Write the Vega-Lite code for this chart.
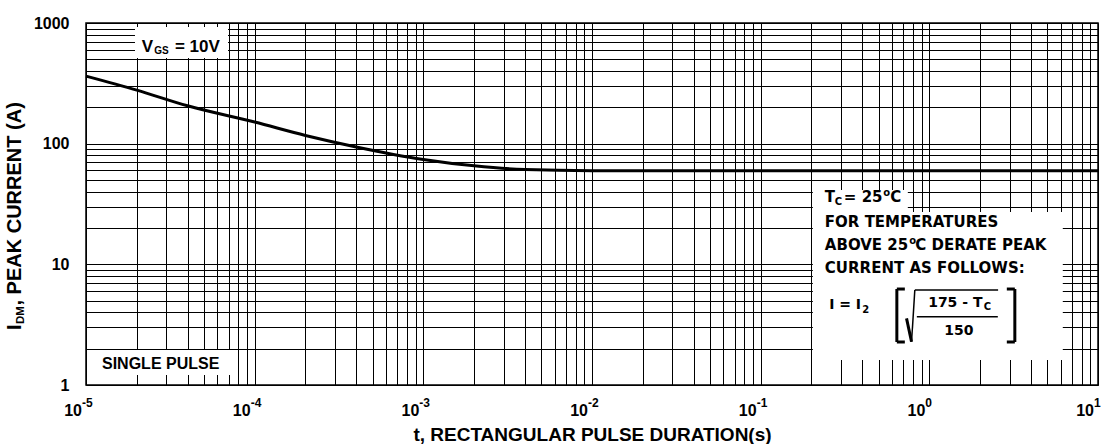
{
  "$schema": "https://vega.github.io/schema/vega-lite/v6.json",
  "width": 1012,
  "height": 362,
  "autosize": {"type": "none"},
  "padding": {"left": 86, "top": 23, "right": 13, "bottom": 59},
  "background": "white",
  "config": {
    "font": "Liberation Sans",
    "view": {"stroke": "#000", "strokeWidth": 1.5},
    "text": {"font": "Liberation Sans", "fontWeight": "bold", "color": "#000", "align": "left", "baseline": "alphabetic"}
  },
  "layer": [
    {
      "data": {"values": [
        {"t": 1e-5, "i": 363},
        {"t": 2e-5, "i": 278},
        {"t": 4e-5, "i": 206},
        {"t": 1e-4, "i": 151},
        {"t": 2e-4, "i": 117},
        {"t": 4e-4, "i": 94},
        {"t": 1e-3, "i": 74},
        {"t": 2e-3, "i": 65.5},
        {"t": 4e-3, "i": 61},
        {"t": 1e-2, "i": 59.7},
        {"t": 0.1, "i": 59.7},
        {"t": 1, "i": 59.7},
        {"t": 10, "i": 59.7}
      ]},
      "mark": {"type": "line", "color": "#000", "strokeWidth": 3, "interpolate": "monotone"},
      "encoding": {
        "x": {
          "field": "t", "type": "quantitative",
          "scale": {"type": "log", "domain": [1e-5, 10], "nice": false},
          "axis": {
            "values": [1e-5,2e-5,3e-5,4e-5,5e-5,6e-5,7e-5,8e-5,9e-5,1e-4,2e-4,3e-4,4e-4,5e-4,6e-4,7e-4,8e-4,9e-4,0.001,0.002,0.003,0.004,0.005,0.006,0.007,0.008,0.009,0.01,0.02,0.03,0.04,0.05,0.06,0.07,0.08,0.09,0.1,0.2,0.3,0.4,0.5,0.6,0.7,0.8,0.9,1,2,3,4,5,6,7,8,9,10],
            "grid": true, "gridColor": "#000", "gridOpacity": 1, "gridWidth": 1,
            "labels": false, "ticks": false, "domain": false, "zindex": 0,
            "title": "t, RECTANGULAR PULSE DURATION(s)",
            "titleFont": "Liberation Sans", "titleFontWeight": "bold", "titleFontSize": 19,
            "titleColor": "#000", "titleBaseline": "alphabetic", "titlePadding": 55
          }
        },
        "y": {
          "field": "i", "type": "quantitative",
          "scale": {"type": "log", "domain": [1, 1000], "nice": false},
          "axis": {
            "values": [1,2,3,4,5,6,7,8,9,10,20,30,40,50,60,70,80,90,100,200,300,400,500,600,700,800,900,1000],
            "grid": true, "gridColor": "#000", "gridOpacity": 1, "gridWidth": 1,
            "ticks": false, "domain": false, "zindex": 0,
            "labelExpr": "datum.value == 1 || datum.value == 10 || datum.value == 100 || datum.value == 1000 ? format(datum.value, 'd') : ''",
            "labelOverlap": false, "labelFont": "Liberation Sans", "labelFontWeight": "bold",
            "labelFontSize": 16, "labelColor": "#000", "labelPadding": 17,
            "title": null
          }
        }
      }
    },
    {"data": {"values": [{}]}, "mark": {"type": "rect", "fill": "white"},
     "encoding": {"x": {"datum": 1.952e-5, "type": "quantitative"}, "x2": {"datum": 6.95e-5}, "y": {"datum": 925, "type": "quantitative"}, "y2": {"datum": 512}}},
    {"data": {"values": [{}]}, "mark": {"type": "rect", "fill": "white"},
     "encoding": {"x": {"datum": 1.02e-5, "type": "quantitative"}, "x2": {"datum": 7.54e-5}, "y": {"datum": 1.95, "type": "quantitative"}, "y2": {"datum": 1.21}}},
    {"data": {"values": [{}]}, "mark": {"type": "rect", "fill": "white"},
     "encoding": {"x": {"datum": 0.2039, "type": "quantitative"}, "x2": {"datum": 0.7455}, "y": {"datum": 41.26, "type": "quantitative"}, "y2": {"datum": 27.13}}},
    {"data": {"values": [{}]}, "mark": {"type": "rect", "fill": "white"},
     "encoding": {"x": {"datum": 0.2039, "type": "quantitative"}, "x2": {"datum": 6.184}, "y": {"datum": 27.13, "type": "quantitative"}, "y2": {"datum": 1.611}}},

    {"data": {"values": [{}]}, "mark": {"type": "text", "text": "V", "fontSize": 17},
     "encoding": {"x": {"datum": 2.138e-5, "type": "quantitative"}, "y": {"datum": 577.4, "type": "quantitative"}}},
    {"data": {"values": [{}]}, "mark": {"type": "text", "text": "GS", "fontSize": 10, "dx": 12.5, "dy": 2},
     "encoding": {"x": {"datum": 2.138e-5, "type": "quantitative"}, "y": {"datum": 577.4, "type": "quantitative"}}},
    {"data": {"values": [{}]}, "mark": {"type": "text", "text": "= 10V", "fontSize": 17, "dx": 33.3},
     "encoding": {"x": {"datum": 2.138e-5, "type": "quantitative"}, "y": {"datum": 577.4, "type": "quantitative"}}},

    {"data": {"values": [{}]}, "mark": {"type": "text", "text": "SINGLE PULSE", "fontSize": 16},
     "encoding": {"x": {"datum": 1.244e-5, "type": "quantitative"}, "y": {"datum": 1.357, "type": "quantitative"}}},

    {"data": {"values": [{}]}, "mark": {"type": "text", "text": "T", "fontSize": 15, "font": "DejaVu Sans"},
     "encoding": {"x": {"datum": 0.2402, "type": "quantitative"}, "y": {"datum": 32.64, "type": "quantitative"}}},
    {"data": {"values": [{}]}, "mark": {"type": "text", "text": "C", "fontSize": 10, "font": "DejaVu Sans", "dx": 10, "dy": 3},
     "encoding": {"x": {"datum": 0.2402, "type": "quantitative"}, "y": {"datum": 32.64, "type": "quantitative"}}},
    {"data": {"values": [{}]}, "mark": {"type": "text", "text": "= 25", "fontSize": 15, "font": "DejaVu Sans", "dx": 19},
     "encoding": {"x": {"datum": 0.2402, "type": "quantitative"}, "y": {"datum": 32.64, "type": "quantitative"}}},
    {"data": {"values": [{}]}, "mark": {"type": "text", "text": "o", "fontSize": 10, "font": "DejaVu Sans", "dx": 58.5, "dy": -6},
     "encoding": {"x": {"datum": 0.2402, "type": "quantitative"}, "y": {"datum": 32.64, "type": "quantitative"}}},
    {"data": {"values": [{}]}, "mark": {"type": "text", "text": "C", "fontSize": 15, "font": "DejaVu Sans", "dx": 65.5},
     "encoding": {"x": {"datum": 0.2402, "type": "quantitative"}, "y": {"datum": 32.64, "type": "quantitative"}}},

    {"data": {"values": [{}]}, "mark": {"type": "text", "text": "FOR TEMPERATURES", "fontSize": 15, "font": "DejaVu Sans"},
     "encoding": {"x": {"datum": 0.2402, "type": "quantitative"}, "y": {"datum": 20.26, "type": "quantitative"}}},
    {"data": {"values": [{}]}, "mark": {"type": "text", "text": "ABOVE 25", "fontSize": 15, "font": "DejaVu Sans"},
     "encoding": {"x": {"datum": 0.2402, "type": "quantitative"}, "y": {"datum": 13.14, "type": "quantitative"}}},
    {"data": {"values": [{}]}, "mark": {"type": "text", "text": "o", "fontSize": 10, "font": "DejaVu Sans", "dx": 84.5, "dy": -6},
     "encoding": {"x": {"datum": 0.2402, "type": "quantitative"}, "y": {"datum": 13.14, "type": "quantitative"}}},
    {"data": {"values": [{}]}, "mark": {"type": "text", "text": "C DERATE PEAK", "fontSize": 15, "font": "DejaVu Sans", "dx": 90.5},
     "encoding": {"x": {"datum": 0.2402, "type": "quantitative"}, "y": {"datum": 13.14, "type": "quantitative"}}},
    {"data": {"values": [{}]}, "mark": {"type": "text", "text": "CURRENT AS FOLLOWS:", "fontSize": 15, "font": "DejaVu Sans"},
     "encoding": {"x": {"datum": 0.2402, "type": "quantitative"}, "y": {"datum": 8.518, "type": "quantitative"}}},

    {"data": {"values": [{}]}, "mark": {"type": "text", "text": "I = I", "fontSize": 14, "font": "DejaVu Sans"},
     "encoding": {"x": {"datum": 0.2548, "type": "quantitative"}, "y": {"datum": 4.238, "type": "quantitative"}}},
    {"data": {"values": [{}]}, "mark": {"type": "text", "text": "2", "fontSize": 10, "font": "DejaVu Sans", "dx": 33, "dy": 4},
     "encoding": {"x": {"datum": 0.2548, "type": "quantitative"}, "y": {"datum": 4.238, "type": "quantitative"}}},
    {"data": {"values": [{}]}, "mark": {"type": "text", "text": "175 - T", "fontSize": 14, "font": "DejaVu Sans"},
     "encoding": {"x": {"datum": 0.9838, "type": "quantitative"}, "y": {"datum": 4.454, "type": "quantitative"}}},
    {"data": {"values": [{}]}, "mark": {"type": "text", "text": "C", "fontSize": 10, "font": "DejaVu Sans", "dx": 55.5, "dy": 3},
     "encoding": {"x": {"datum": 0.9838, "type": "quantitative"}, "y": {"datum": 4.454, "type": "quantitative"}}},
    {"data": {"values": [{}]}, "mark": {"type": "text", "text": "150", "fontSize": 14, "font": "DejaVu Sans", "align": "center"},
     "encoding": {"x": {"datum": 1.496, "type": "quantitative"}, "y": {"datum": 2.596, "type": "quantitative"}}},

    {"data": {"values": [{}]}, "mark": {"type": "rule", "color": "#000", "strokeWidth": 3},
     "encoding": {"x": {"datum": 0.6418, "type": "quantitative"}, "x2": {"datum": 0.6418}, "y": {"datum": 6.243, "type": "quantitative"}, "y2": {"datum": 2.272}}},
    {"data": {"values": [{}]}, "mark": {"type": "rule", "color": "#000", "strokeWidth": 3},
     "encoding": {"x": {"datum": 0.6418, "type": "quantitative"}, "x2": {"datum": 0.7158}, "y": {"datum": 6.243, "type": "quantitative"}, "y2": {"datum": 6.243}}},
    {"data": {"values": [{}]}, "mark": {"type": "rule", "color": "#000", "strokeWidth": 3},
     "encoding": {"x": {"datum": 0.6418, "type": "quantitative"}, "x2": {"datum": 0.7158}, "y": {"datum": 2.272, "type": "quantitative"}, "y2": {"datum": 2.272}}},
    {"data": {"values": [{}]}, "mark": {"type": "rule", "color": "#000", "strokeWidth": 3},
     "encoding": {"x": {"datum": 3.213, "type": "quantitative"}, "x2": {"datum": 3.213}, "y": {"datum": 6.243, "type": "quantitative"}, "y2": {"datum": 2.272}}},
    {"data": {"values": [{}]}, "mark": {"type": "rule", "color": "#000", "strokeWidth": 3},
     "encoding": {"x": {"datum": 2.88, "type": "quantitative"}, "x2": {"datum": 3.213}, "y": {"datum": 6.243, "type": "quantitative"}, "y2": {"datum": 6.243}}},
    {"data": {"values": [{}]}, "mark": {"type": "rule", "color": "#000", "strokeWidth": 3},
     "encoding": {"x": {"datum": 2.88, "type": "quantitative"}, "x2": {"datum": 3.213}, "y": {"datum": 2.272, "type": "quantitative"}, "y2": {"datum": 2.272}}},
    {"data": {"values": [{}]}, "mark": {"type": "rule", "color": "#000", "strokeWidth": 3},
     "encoding": {"x": {"datum": 0.7326, "type": "quantitative"}, "x2": {"datum": 0.7843}, "y": {"datum": 3.569, "type": "quantitative"}, "y2": {"datum": 2.285}}},
    {"data": {"values": [{}]}, "mark": {"type": "rule", "color": "#000", "strokeWidth": 1.5},
     "encoding": {"x": {"datum": 0.7843, "type": "quantitative"}, "x2": {"datum": 0.8204}, "y": {"datum": 2.285, "type": "quantitative"}, "y2": {"datum": 6.125}}},
    {"data": {"values": [{}]}, "mark": {"type": "rule", "color": "#000", "strokeWidth": 1.5},
     "encoding": {"x": {"datum": 0.8204, "type": "quantitative"}, "x2": {"datum": 2.557}, "y": {"datum": 6.125, "type": "quantitative"}, "y2": {"datum": 6.125}}},
    {"data": {"values": [{}]}, "mark": {"type": "rule", "color": "#000", "strokeWidth": 1.5},
     "encoding": {"x": {"datum": 0.8432, "type": "quantitative"}, "x2": {"datum": 2.547}, "y": {"datum": 3.681, "type": "quantitative"}, "y2": {"datum": 3.681}}},

    {"data": {"values": [
        {"t": 1e-5, "e": "-5"}, {"t": 1e-4, "e": "-4"}, {"t": 1e-3, "e": "-3"},
        {"t": 1e-2, "e": "-2"}, {"t": 1e-1, "e": "-1"}, {"t": 1, "e": "0"}, {"t": 10, "e": "1"}
      ]},
     "layer": [
       {"mark": {"type": "text", "text": "10", "fontSize": 16, "align": "right", "dx": -4},
        "encoding": {"x": {"field": "t", "type": "quantitative"}, "y": {"datum": 0.5535, "type": "quantitative"}}},
       {"mark": {"type": "text", "fontSize": 12, "align": "left", "dx": -4, "dy": -9},
        "encoding": {"x": {"field": "t", "type": "quantitative"}, "y": {"datum": 0.5535, "type": "quantitative"}, "text": {"field": "e"}}}
     ]},

    {"data": {"values": [{}]}, "mark": {"type": "text", "text": "I", "fontSize": 20, "angle": 270},
     "encoding": {"x": {"datum": 4.1e-6, "type": "quantitative"}, "y": {"datum": 2.856, "type": "quantitative"}}},
    {"data": {"values": [{}]}, "mark": {"type": "text", "text": "DM", "fontSize": 11.5, "angle": 270, "dx": 6, "dy": 3},
     "encoding": {"x": {"datum": 4.1e-6, "type": "quantitative"}, "y": {"datum": 2.856, "type": "quantitative"}}},
    {"data": {"values": [{}]}, "mark": {"type": "text", "text": ", PEAK CURRENT (A)", "fontSize": 20, "angle": 270, "dx": 24.5},
     "encoding": {"x": {"datum": 4.1e-6, "type": "quantitative"}, "y": {"datum": 2.856, "type": "quantitative"}}}
  ]
}
